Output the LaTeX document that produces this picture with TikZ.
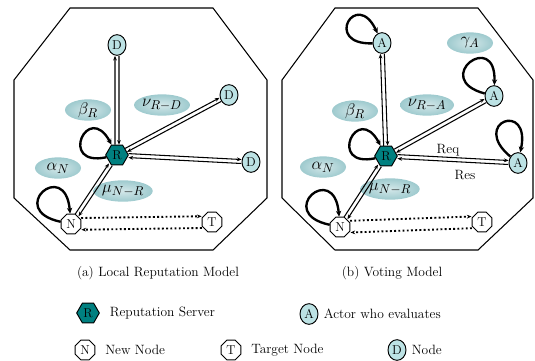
\documentclass[tikz,border=0pt]{standalone}
\usepackage{amsmath}
\usetikzlibrary{shapes.geometric,calc,arrows.meta,positioning}
\definecolor{servteal}{RGB}{0,128,128}
\definecolor{nodecyan}{RGB}{188,226,228}
\definecolor{labelcyan}{RGB}{158,202,206}

% two parallel arrows, one each way
\newcommand{\twoway}[4][1.7pt]{%
  \path (#3) -- (#4) coordinate[pos=0] (tw-a) coordinate[pos=1] (tw-b);
  \draw[#2] ($(tw-a)!#1!90:(tw-b)$) -- ($(tw-b)!#1!-90:(tw-a)$);
  \draw[#2] ($(tw-b)!#1!90:(tw-a)$) -- ($(tw-a)!#1!-90:(tw-b)$);
}

\begin{document}
\begin{tikzpicture}[x=0.03cm,y=0.03cm,font=\fontsize{11.5}{13}\selectfont]

%
% Styles
%
\tikzstyle{server}  = [regular polygon, regular polygon sides=6, draw, thick, fill=servteal, inner sep=0pt, minimum size=0.68cm, font=\fontsize{11}{12}\selectfont]
\tikzstyle{plain}   = [regular polygon, regular polygon sides=8, draw, thick, fill=white, inner sep=0pt, minimum size=0.64cm, font=\fontsize{11}{12}\selectfont]
\tikzstyle{member}  = [ellipse, draw, thick, fill=nodecyan, inner sep=0pt, minimum width=0.54cm, minimum height=0.62cm, font=\fontsize{11}{12}\selectfont]
\tikzstyle{greek}   = [ellipse, inner color=labelcyan!45, outer color=labelcyan, minimum width=1.38cm, minimum height=0.64cm, inner sep=0pt, font=\fontsize{15}{16}\selectfont]
\tikzstyle{frame}   = [line width=0.9pt]
\tikzstyle{edge}    = [-{Stealth[length=4pt,width=3.2pt]}, line width=0.9pt]
\tikzstyle{dotedge} = [-{Stealth[length=4pt,width=3.2pt]}, line width=1.6pt, dotted]
\tikzstyle{loopedge}= [-{Stealth[length=5pt,width=4.5pt]}, line width=2pt]

\useasboundingbox (0,0) rectangle (535,-360);

%
% (a) Local Reputation Model
%
\draw[frame] (70,-8) -- (213,-8) -- (267,-80) -- (267,-198) -- (213,-250)
  -- (70,-250) -- (14,-198) -- (14,-80) -- cycle;

\node[greek]  (ba) at ( 88,-110) {$\beta_{R}$};
\node[greek]  (na) at (162,-105) {$\nu_{R-D}$};
\node[greek]  (aa) at ( 58,-168) {$\alpha_{N}$};
\node[greek]  (ma) at (123,-191) {$\mu_{N-R}$};

\node[server] (ra)  at (117,-155) {R};
\node[member] (da1) at (117, -45) {D};
\node[member] (da2) at (229, -95) {D};
\node[member] (da3) at (251,-162) {D};
\node[plain]  (nA)  at ( 71,-224) {N};
\node[plain]  (ta)  at (212,-222) {T};

\twoway{edge}{ra}{da1}
\twoway{edge}{ra}{da2}
\twoway{edge}{da3}{ra}
\twoway{edge}{nA}{ra}
\twoway[5pt]{dotedge}{nA}{ta}

\draw[loopedge] (ra) to[out=192, in=118, min distance=1.5cm] (ra);
\draw[loopedge] (nA) to[out=168, in=95, min distance=1.7cm] (nA);

%
% (b) Voting Model
%
\draw[frame] (335,-8) -- (478,-8) -- (533,-80) -- (533,-198) -- (478,-250)
  -- (335,-250) -- (282,-198) -- (282,-80) -- cycle;

\node[greek]  (bb) at (355,-111) {$\beta_{R}$};
\node[greek]  (nb) at (427,-105) {$\nu_{R-A}$};
\node[greek]  (gb) at (470, -43) {$\gamma_{A}$};
\node[greek]  (ab) at (323,-167) {$\alpha_{N}$};
\node[greek]  (mb) at (390,-189) {$\mu_{N-R}$};

\node[server] (rb)  at (386,-156) {R};
\node[member] (ab1) at (382, -43) {A};
\node[member] (ab2) at (494, -96) {A};
\node[member] (ab3) at (518,-163) {A};
\node[plain]  (nB)  at (340,-227) {N};
\node[plain]  (tb)  at (482,-222) {T};

\twoway{edge}{rb}{ab1}
\twoway{edge}{rb}{ab2}
\twoway{edge}{ab3}{rb}
\twoway{edge}{nB}{rb}
\twoway[5pt]{dotedge}{nB}{tb}

\node (req) at (448,-150) {Req};
\node (res) at (465,-175) {Res};

\draw[loopedge] (rb)  to[out=192, in=118, min distance=1.5cm] (rb);
\draw[loopedge] (nB)  to[out=168, in=95, min distance=1.7cm] (nB);
\draw[loopedge] (ab1) to[out=182, in=115, min distance=1.5cm] (ab1);
\draw[loopedge] (ab2) to[out=165, in=88, min distance=1.7cm] (ab2);
\draw[loopedge] (ab3) to[out=140, in=78, min distance=1.6cm] (ab3);

%
% Captions and legend
%
\node (capa) at (158,-273) {(a) Local Reputation Model};
\node (capb) at (392,-273) {(b) Voting Model};

\node[server] (lr) at ( 88,-313) {R};
\node[right=5pt of lr]  {Reputation Server};
\node[member] (la) at (309,-314) {A};
\node[right=1pt of la]  {Actor who evaluates};
\node[plain]  (ln) at ( 85,-350) {N};
\node[right=5pt of ln]  {New Node};
\node[plain]  (lt) at (231,-350) {T};
\node[right=5pt of lt]  {Target Node};
\node[member] (ld) at (397,-350) {D};
\node[right=1pt of ld]  {Node};

\end{tikzpicture}
\end{document}
